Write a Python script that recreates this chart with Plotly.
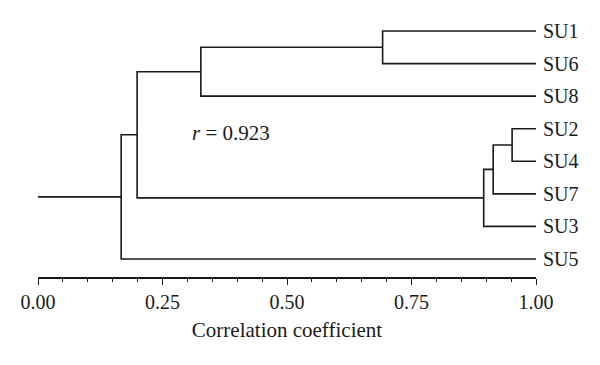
import plotly.graph_objects as go

# ---- data ----
leaves = ["SU1", "SU6", "SU8", "SU2", "SU4", "SU7", "SU3", "SU5"]
# merges: (left child, right child, correlation level)
merge_left = ["SU1", "SU2", "M2", "M3", "M1", "M5", "M6"]
merge_right = ["SU6", "SU4", "SU7", "SU3", "SU8", "M4", "SU5"]
merge_level = [0.692, 0.952, 0.914, 0.895, 0.327, 0.199, 0.167]
merge_names = ["M1", "M2", "M3", "M4", "M5", "M6", "M7"]
r_value = 0.923
x_ticks = [0.00, 0.25, 0.50, 0.75, 1.00]

# ---- compute node positions ----
pos_y = {name: i for i, name in enumerate(leaves)}
pos_x = {name: 1.0 for name in leaves}
xs, ys = [], []
for name, a, b, lvl in zip(merge_names, merge_left, merge_right, merge_level):
    ya, yb = pos_y[a], pos_y[b]
    xs += [pos_x[a], lvl, lvl, pos_x[b], None]
    ys += [ya, ya, yb, yb, None]
    pos_y[name] = (ya + yb) / 2
    pos_x[name] = lvl
root = merge_names[-1]
xs += [0.0, pos_x[root], None]
ys += [pos_y[root], pos_y[root], None]

LINE = "#1a1a1a"
FONT = "Liberation Serif"
FS = 20

fig = go.Figure()
fig.add_trace(go.Scatter(x=xs, y=ys, mode="lines",
                         line=dict(color=LINE, width=1.6),
                         hoverinfo="skip", showlegend=False))

for name in leaves:
    fig.add_annotation(x=1.0, y=pos_y[name], text=name, showarrow=False,
                       xanchor="left", yanchor="middle", xshift=5,
                       font=dict(family=FONT, size=FS, color="#1a1a1a"))

fig.add_annotation(x=0.306, y=3.13, text=f"<i>r</i> = {r_value}", showarrow=False,
                   xanchor="left", yanchor="middle",
                   font=dict(family=FONT, size=FS + 1, color="#1a1a1a"))

fig.update_layout(
    width=600, height=365,
    margin=dict(l=29.5, r=72, t=2, b=96),
    paper_bgcolor="white", plot_bgcolor="white",
    font=dict(family=FONT, size=FS, color="#1a1a1a"),
    xaxis=dict(range=[0, 1], tickvals=x_ticks,
               ticktext=[f"{v:.2f}" for v in x_ticks],
               showgrid=False, zeroline=False,
               showline=True, linecolor=LINE, linewidth=1.5,
               ticks="outside", ticklen=6, tickwidth=1.2, tickcolor=LINE,
               minor=dict(dtick=0.05, ticks="outside", ticklen=3,
                          tickwidth=1, tickcolor=LINE, showgrid=False),
               title=dict(text="Correlation coefficient", standoff=11,
                          font=dict(family=FONT, size=21)),
               tickfont=dict(family=FONT, size=FS)),
    yaxis=dict(range=[7.553, -0.645], visible=False, showgrid=False,
               zeroline=False),
)

fig.write_html("out.html")
